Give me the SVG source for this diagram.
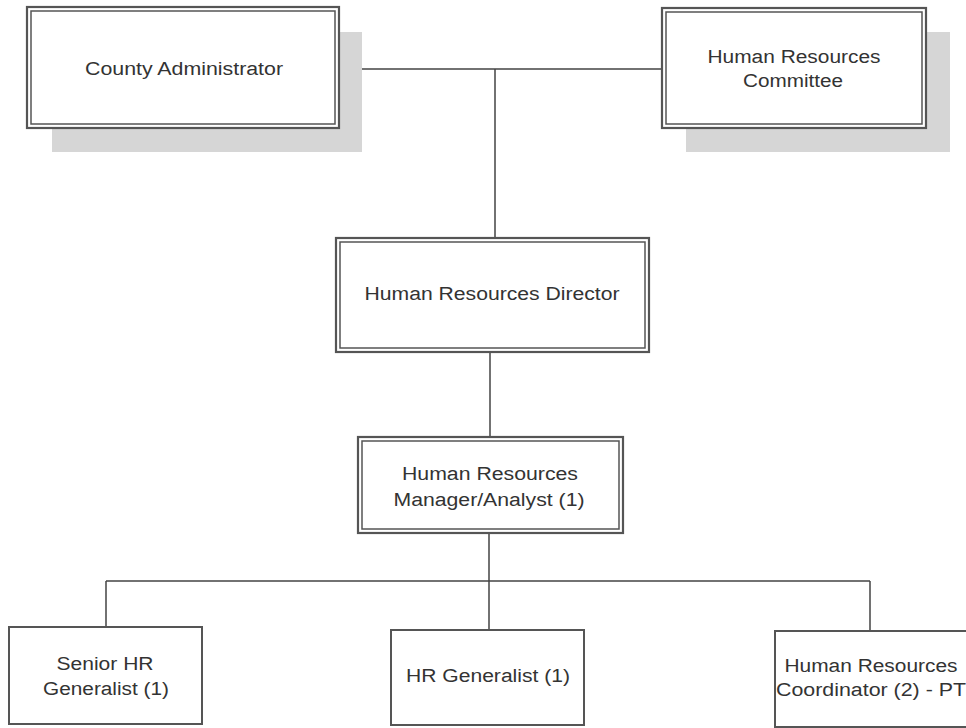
<svg xmlns="http://www.w3.org/2000/svg" width="966" height="728" viewBox="0 0 966 728">
<style>
.shadow{fill:#d6d6d6;stroke:none}
.outer{fill:#fff;stroke:#555;stroke-width:2.2}
.inner{fill:none;stroke:#555;stroke-width:1.5}
.single{fill:#fff;stroke:#555;stroke-width:2}
.conn{fill:none;stroke:#444;stroke-width:1.5}
text{font-family:"Liberation Sans",Arial,sans-serif;font-size:18px;fill:#333;text-anchor:middle}
</style>
<rect width="966" height="728" fill="#fff"/>
<g id="connectors">
<path class="conn" d="M339 69 H662 M495 69 V238"/>
<path class="conn" d="M490 352 V437"/>
<path class="conn" d="M489 533 V581 M106 581 H870 M106 581 V627 M489 581 V630 M870 581 V631"/>
</g>
<g id="county-administrator">
<rect class="shadow" x="52" y="32" width="310" height="120"/>
<rect class="outer" x="27" y="7" width="312" height="121"/>
<rect class="inner" x="31" y="11" width="304" height="113"/>
<text x="184" y="75" textLength="198" lengthAdjust="spacingAndGlyphs">County Administrator</text>
</g>
<g id="hr-committee">
<rect class="shadow" x="686" y="32" width="264" height="120"/>
<rect class="outer" x="662" y="8" width="264" height="120"/>
<rect class="inner" x="666" y="12" width="256" height="112"/>
<text x="794" y="63" textLength="173" lengthAdjust="spacingAndGlyphs">Human Resources</text>
<text x="793" y="87" textLength="100" lengthAdjust="spacingAndGlyphs">Committee</text>
</g>
<g id="hr-director">
<rect class="outer" x="336" y="238" width="313" height="114"/>
<rect class="inner" x="340" y="242" width="305" height="106"/>
<text x="492" y="300" textLength="255" lengthAdjust="spacingAndGlyphs">Human Resources Director</text>
</g>
<g id="hr-manager">
<rect class="outer" x="358" y="437" width="265" height="96"/>
<rect class="inner" x="362" y="441" width="257" height="88"/>
<text x="490" y="480" textLength="176" lengthAdjust="spacingAndGlyphs">Human Resources</text>
<text x="489" y="506" textLength="191" lengthAdjust="spacingAndGlyphs">Manager/Analyst (1)</text>
</g>
<g id="senior-hr-generalist">
<rect class="single" x="9" y="627" width="193" height="97"/>
<text x="105" y="670" textLength="97" lengthAdjust="spacingAndGlyphs">Senior HR</text>
<text x="106" y="695" textLength="126" lengthAdjust="spacingAndGlyphs">Generalist (1)</text>
</g>
<g id="hr-generalist">
<rect class="single" x="391" y="630" width="193" height="95"/>
<text x="488" y="682" textLength="164" lengthAdjust="spacingAndGlyphs">HR Generalist (1)</text>
</g>
<g id="hr-coordinator">
<rect class="single" x="775" y="631" width="200" height="96"/>
<text x="871" y="672" textLength="173" lengthAdjust="spacingAndGlyphs">Human Resources</text>
<text x="871" y="696" textLength="190" lengthAdjust="spacingAndGlyphs">Coordinator (2) - PT</text>
</g>
</svg>
